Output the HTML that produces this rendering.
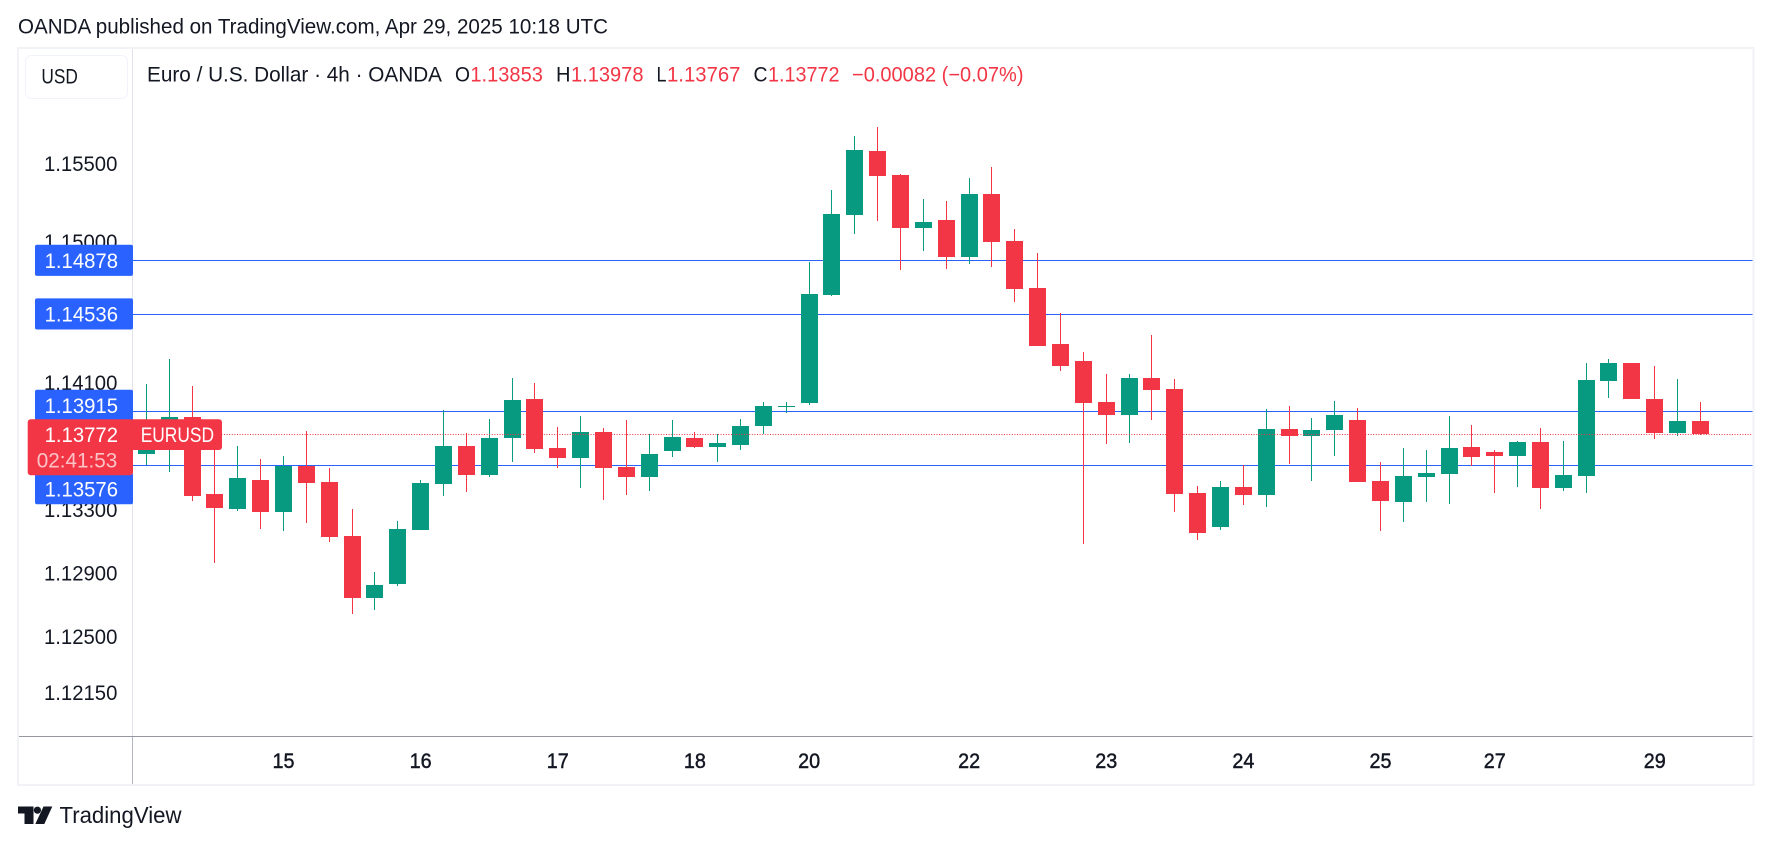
<!DOCTYPE html>
<html lang="en">
<head>
<meta charset="utf-8">
<title>EURUSD 4h chart</title>
<style>
  html, body { margin: 0; padding: 0; background: #ffffff; }
  body { width: 1771px; height: 846px; overflow: hidden; }
  svg { display: block; }
  text { font-family: "Liberation Sans", Arial, sans-serif; }
</style>
</head>
<body>
<svg id="chart" xmlns="http://www.w3.org/2000/svg" width="1771" height="846" viewBox="0 0 1771 846">
  <rect x="0" y="0" width="1771" height="846" fill="#ffffff"/>
  <text x="18" y="33.5" font-size="21" fill="#131722" textLength="590" lengthAdjust="spacingAndGlyphs">OANDA published on TradingView.com, Apr 29, 2025 10:18 UTC</text>

  <rect x="18" y="48" width="1735.5" height="737" fill="none" stroke="#f1f2f5" stroke-width="2"/>
  <line x1="132.5" y1="49" x2="132.5" y2="736" stroke="#e0e3eb" stroke-width="1"/>
  <line x1="19" y1="736.5" x2="1752.5" y2="736.5" stroke="#9598a1" stroke-width="1"/>
  <line x1="132.5" y1="737" x2="132.5" y2="784" stroke="#b2b5be" stroke-width="1"/>

  <rect x="25.5" y="55.5" width="102" height="43" rx="6" fill="#ffffff" stroke="#f0f3fa" stroke-width="1"/>
  <text x="41.4" y="83.5" font-size="21" fill="#131722" textLength="36.5" lengthAdjust="spacingAndGlyphs">USD</text>

  <g font-size="21">
    <text x="147" y="81.5" fill="#131722" textLength="295" lengthAdjust="spacingAndGlyphs">Euro / U.S. Dollar · 4h · OANDA</text>
    <text x="455" y="81.5" fill="#131722" textLength="15" lengthAdjust="spacingAndGlyphs">O</text>
    <text x="470.4" y="81.5" fill="#f23645" textLength="72.5" lengthAdjust="spacingAndGlyphs">1.13853</text>
    <text x="556" y="81.5" fill="#131722" textLength="14.5" lengthAdjust="spacingAndGlyphs">H</text>
    <text x="571" y="81.5" fill="#f23645" textLength="72.5" lengthAdjust="spacingAndGlyphs">1.13978</text>
    <text x="656.5" y="81.5" fill="#131722" textLength="10" lengthAdjust="spacingAndGlyphs">L</text>
    <text x="667" y="81.5" fill="#f23645" textLength="73.5" lengthAdjust="spacingAndGlyphs">1.13767</text>
    <text x="753.5" y="81.5" fill="#131722" textLength="14" lengthAdjust="spacingAndGlyphs">C</text>
    <text x="768" y="81.5" fill="#f23645" textLength="71.5" lengthAdjust="spacingAndGlyphs">1.13772</text>
    <text x="852" y="81.5" fill="#f23645" textLength="171.5" lengthAdjust="spacingAndGlyphs">−0.00082 (−0.07%)</text>
  </g>

  <g id="price-ticks"></g>
  <g id="time-ticks"></g>
  <g id="level-lines"></g>
  <g id="candles"></g>
  <g id="price-line"></g>
  <g id="level-labels"></g>
  <g id="last-price"></g>

  <g>
    <polygon points="18,806.5 33.5,806.5 33.5,824 24.5,824 24.5,813.5 18,813.5" fill="#131722"/>
    <circle cx="37.4" cy="810.2" r="3.6" fill="#131722"/>
    <polygon points="43.5,806.5 52.3,806.5 44.3,824 35.3,824" fill="#131722"/>
    <text x="59.5" y="823" font-size="23" fill="#131722" textLength="122" lengthAdjust="spacingAndGlyphs">TradingView</text>
  </g>
</svg>

<script>
const opens = [1.13648,1.13808,1.13882,1.13395,1.13300,1.13483,1.13281,1.13574,1.13470,1.13130,
  1.12742,1.12828,1.13168,1.13458,1.13698,1.13515,1.13749,1.13995,1.13686,1.13622,
  1.13787,1.13566,1.13502,1.13667,1.13749,1.13692,1.13705,1.13825,1.13945,1.13970,
  1.14657,1.15168,1.15579,1.15424,1.15085,1.15136,1.14900,1.15302,1.15002,1.14702,
  1.14344,1.14236,1.13976,1.13894,1.14128,1.14059,1.13401,1.13187,1.13439,1.13389,
  1.13806,1.13762,1.13799,1.13863,1.13477,1.13344,1.13502,1.13521,1.13692,1.13660,
  1.13635,1.13724,1.13433,1.13508,1.14109,1.14224,1.13995,1.13780,1.13853];
const highs = [1.14091,1.14249,1.14078,1.13755,1.13698,1.13616,1.13635,1.13793,1.13559,1.13300,
  1.12904,1.13225,1.13483,1.13926,1.13780,1.13869,1.14128,1.14097,1.13818,1.13888,
  1.13812,1.13863,1.13772,1.13863,1.13787,1.13772,1.13869,1.13976,1.13976,1.14867,
  1.15328,1.15675,1.15733,1.15431,1.15270,1.15258,1.15405,1.15476,1.15079,1.14925,
  1.14542,1.14293,1.14154,1.14154,1.14401,1.14122,1.13445,1.13477,1.13578,1.13932,
  1.13951,1.13875,1.13983,1.13938,1.13597,1.13686,1.13673,1.13888,1.13831,1.13673,
  1.13730,1.13812,1.13730,1.14224,1.14249,1.14224,1.14205,1.14122,1.13978];
const lows = [1.13576,1.13534,1.13351,1.12960,1.13288,1.13174,1.13162,1.13212,1.13092,1.12643,
  1.12667,1.12816,1.13168,1.13382,1.13408,1.13502,1.13597,1.13654,1.13559,1.13433,
  1.13357,1.13389,1.13414,1.13629,1.13686,1.13597,1.13673,1.13772,1.13907,1.13957,
  1.14651,1.15047,1.15130,1.14817,1.14938,1.14823,1.14855,1.14836,1.14612,1.14331,
  1.14173,1.13080,1.13711,1.13717,1.13863,1.13281,1.13105,1.13168,1.13326,1.13313,
  1.13585,1.13477,1.13635,1.13470,1.13162,1.13218,1.13344,1.13332,1.13572,1.13401,
  1.13439,1.13300,1.13414,1.13401,1.14002,1.13995,1.13743,1.13762,1.13767];
const closes = [1.13808,1.13882,1.13382,1.13307,1.13496,1.13281,1.13574,1.13464,1.13124,1.12742,
  1.12822,1.13174,1.13464,1.13698,1.13515,1.13749,1.13989,1.13679,1.13622,1.13787,
  1.13559,1.13502,1.13648,1.13755,1.13692,1.13717,1.13825,1.13951,1.13951,1.14663,
  1.15175,1.15585,1.15418,1.15085,1.15123,1.14900,1.15302,1.14996,1.14695,1.14331,
  1.14205,1.13970,1.13894,1.14128,1.14052,1.13395,1.13149,1.13439,1.13389,1.13806,
  1.13762,1.13799,1.13894,1.13470,1.13351,1.13508,1.13527,1.13686,1.13629,1.13635,
  1.13724,1.13433,1.13515,1.14116,1.14224,1.13995,1.13780,1.13856,1.13772];

const priceTicks = [1.155, 1.15, 1.141, 1.133, 1.129, 1.125, 1.1215];
const timeTickBars = [6, 12, 18, 24, 29, 36, 42, 48, 54, 59, 66];
const timeTickLabels = ["15", "16", "17", "18", "20", "22", "23", "24", "25", "27", "29"];
const levels = [1.14878, 1.14536, 1.13915, 1.13576];
const lastPrice = 1.13772;
const symbolName = "EURUSD";
const countdown = "02:41:53";

const SVG_NS = "http://www.w3.org/2000/svg";
const GREEN = "#089981";
const RED = "#f23645";
const BLUE = "#2962ff";
const INK = "#131722";
const PLOT_LEFT = 133;
const PLOT_RIGHT = 1752;

function xScale(i) { return 146.4 + i * 22.853; }
function yScale(p) { return 260.3 + 17985 * Math.log(1.14878 / p); }

function make(tag) { return document.createElementNS(SVG_NS, tag); }

const tickGroup = document.getElementById("price-ticks");
priceTicks.forEach(function (p) {
  const t = make("text");
  
  
  t.setAttribute("x", 44);
  t.setAttribute("y", yScale(p) + 7.7);
  t.setAttribute("font-size", "21");
  t.setAttribute("fill", INK);
  t.setAttribute("textLength", "73.4");
  t.setAttribute("lengthAdjust", "spacingAndGlyphs");
  t.textContent = p.toFixed(5);
  tickGroup.appendChild(t);
});

const timeGroup = document.getElementById("time-ticks");
timeTickBars.forEach(function (bar, k) {
  const t = make("text");
  
  
  t.setAttribute("x", xScale(bar));
  t.setAttribute("y", 768.2);
  t.setAttribute("text-anchor", "middle");
  t.setAttribute("font-size", "21");
  t.setAttribute("fill", INK);
  t.setAttribute("stroke", INK);
  t.setAttribute("stroke-width", "0.45");
  t.setAttribute("textLength", "22");
  t.setAttribute("lengthAdjust", "spacingAndGlyphs");
  t.textContent = timeTickLabels[k];
  timeGroup.appendChild(t);
});

const lineGroup = document.getElementById("level-lines");
levels.forEach(function (v) {
  const l = make("rect");
  
  
  l.setAttribute("x", PLOT_LEFT);
  l.setAttribute("y", Math.floor(yScale(v) + 0.2));
  l.setAttribute("width", PLOT_RIGHT - PLOT_LEFT + 0.5);
  l.setAttribute("height", 1);
  l.setAttribute("fill", BLUE);
  lineGroup.appendChild(l);
});

const candleGroup = document.getElementById("candles");
opens.forEach(function (o, i) {
  const c = closes[i];
  const color = c >= o ? GREEN : RED;
  const cx = xScale(i);
  const g = make("g");
  
  

  const wick = make("rect");
  
  
  const wickTop = Math.round(yScale(highs[i]));
  const wickBottom = Math.round(yScale(lows[i]));
  wick.setAttribute("x", Math.round(cx - 0.5));
  wick.setAttribute("y", wickTop);
  wick.setAttribute("width", 1);
  wick.setAttribute("height", Math.max(1, wickBottom - wickTop));
  wick.setAttribute("fill", color);
  g.appendChild(wick);

  const body = make("rect");
  
  
  const bodyTop = Math.round(yScale(Math.max(o, c)));
  const bodyBottom = Math.round(yScale(Math.min(o, c)));
  body.setAttribute("x", Math.round(cx - 0.5) - 8);
  body.setAttribute("y", bodyTop);
  body.setAttribute("width", 17);
  body.setAttribute("height", Math.max(1, bodyBottom - bodyTop));
  body.setAttribute("fill", color);
  g.appendChild(body);

  candleGroup.appendChild(g);
});

const lastY = yScale(lastPrice);
const priceLine = make("line");


priceLine.setAttribute("x1", PLOT_LEFT);
priceLine.setAttribute("x2", PLOT_RIGHT);
priceLine.setAttribute("y1", Math.floor(lastY) + 0.5);
priceLine.setAttribute("y2", Math.floor(lastY) + 0.5);
priceLine.setAttribute("stroke", RED);
priceLine.setAttribute("stroke-width", "1");
priceLine.setAttribute("stroke-dasharray", "1 1.6");
document.getElementById("price-line").appendChild(priceLine);

const tagTop = lastY - 15;
const tagBottom = lastY + 41;

const labelGroup = document.getElementById("level-labels");
levels.forEach(function (v) {
  let cy = yScale(v);
  if (cy <= lastY && cy + 15.6 > tagTop + 1.6) { cy = tagTop + 1.6 - 15.6; }
  if (cy > lastY && cy - 15.6 < tagBottom - 2.2) { cy = tagBottom - 2.2 + 15.6; }
  const r = make("rect");
  
  
  r.setAttribute("x", 35);
  r.setAttribute("y", cy - 15.6);
  r.setAttribute("width", 98);
  r.setAttribute("height", 31.2);
  r.setAttribute("rx", 2);
  r.setAttribute("fill", BLUE);
  labelGroup.appendChild(r);
  const t = make("text");
  
  
  t.setAttribute("x", 44.6);
  t.setAttribute("y", cy + 7.6);
  t.setAttribute("font-size", "21");
  t.setAttribute("fill", "#ffffff");
  t.setAttribute("textLength", "73.4");
  t.setAttribute("lengthAdjust", "spacingAndGlyphs");
  t.textContent = v.toFixed(5);
  labelGroup.appendChild(t);
});

const tagGroup = document.getElementById("last-price");
const tagBg = make("rect");


tagBg.setAttribute("x", 27.7);
tagBg.setAttribute("y", tagTop);
tagBg.setAttribute("width", 105.3);
tagBg.setAttribute("height", tagBottom - tagTop);
tagBg.setAttribute("rx", 3);
tagBg.setAttribute("fill", RED);
tagGroup.appendChild(tagBg);

const symbolBg = make("rect");


symbolBg.setAttribute("x", 130);
symbolBg.setAttribute("y", tagTop);
symbolBg.setAttribute("width", 92);
symbolBg.setAttribute("height", 30.7);
symbolBg.setAttribute("rx", 3);
symbolBg.setAttribute("fill", RED);
tagGroup.appendChild(symbolBg);

const priceText = make("text");


priceText.setAttribute("x", 44.6);
priceText.setAttribute("y", lastY + 7.8);
priceText.setAttribute("font-size", "21");
priceText.setAttribute("fill", "#ffffff");
priceText.setAttribute("textLength", "73.4");
priceText.setAttribute("lengthAdjust", "spacingAndGlyphs");
priceText.textContent = lastPrice.toFixed(5);
tagGroup.appendChild(priceText);

const countText = make("text");


countText.setAttribute("x", 36.7);
countText.setAttribute("y", lastY + 33.2);
countText.setAttribute("font-size", "21");
countText.setAttribute("fill", "#ffffff");
countText.setAttribute("fill-opacity", "0.7");
countText.setAttribute("textLength", "80.6");
countText.setAttribute("lengthAdjust", "spacingAndGlyphs");
countText.textContent = countdown;
tagGroup.appendChild(countText);

const symbolText = make("text");


symbolText.setAttribute("x", 140.7);
symbolText.setAttribute("y", lastY + 7.8);
symbolText.setAttribute("font-size", "21");
symbolText.setAttribute("fill", "#ffffff");
symbolText.setAttribute("textLength", "73.3");
symbolText.setAttribute("lengthAdjust", "spacingAndGlyphs");
symbolText.textContent = symbolName;
tagGroup.appendChild(symbolText);
</script>
</body>
</html>
